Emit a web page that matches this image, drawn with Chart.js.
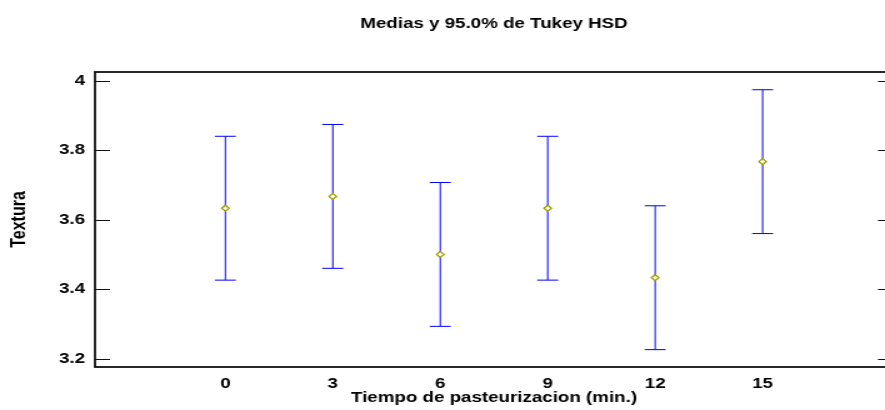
<!DOCTYPE html>
<html>
  <head>
    <meta charset="utf-8">
    <style>
      html, body { margin: 0; padding: 0; overflow: hidden; background: #fff; }
    </style>
  </head>
  <body>
    <!-- drawn narrow and widened with an inline style, like the original export -->
    <canvas id="grafico" width="724" height="410" style="display:block;width:905px;height:410px"></canvas>
  </body>
</html>

<script src="https://cdn.jsdelivr.net/npm/chart.js"></script>
<script>
  // tiempo de pasteurizacion (min.)
  let tiempo = [0, 3, 6, 9, 12, 15];
  // medias de textura y limites del intervalo Tukey HSD 95%
  let medias = [3.633, 3.667, 3.5, 3.633, 3.433, 3.767];
  let limInf = [3.426, 3.460, 3.293, 3.426, 3.226, 3.560];
  let limSup = [3.840, 3.874, 3.707, 3.840, 3.640, 3.974];
  let yTicks = [3.2, 3.4, 3.6, 3.8, 4];

  Chart.defaults.font.family = "'Liberation Sans', Arial, sans-serif";
  Chart.defaults.font.weight = 'bold';
  Chart.defaults.color = '#000';

  // vertical lines: two points per interval and a null to break the line
  let bigotes = [];
  tiempo.forEach(function(t, i){
    bigotes.push({x: t, y: limInf[i]});
    bigotes.push({x: t, y: limSup[i]});
    bigotes.push({x: t, y: null});
  });

  let topes = [];
  tiempo.forEach(function(t, i){
    topes.push({x: t, y: limInf[i]});
    topes.push({x: t, y: limSup[i]});
  });

  let puntosMedia = tiempo.map(function(t, i){ return {x: t, y: medias[i]}; });

  // box around the plot plus inward ticks on both sides
  let marco = {
    id: 'marco',
    beforeDatasetsDraw(chart){
      let ctx = chart.ctx;
      let a = chart.chartArea;
      let y = chart.scales.y;
      ctx.save();
      ctx.strokeStyle = '#111';
      ctx.lineWidth = 1.8;
      ctx.strokeRect(a.left, a.top, a.right - a.left, a.bottom - a.top);
      ctx.lineWidth = 1.2;
      ctx.beginPath();
      yTicks.forEach(function(v){
        let py = Math.round(y.getPixelForValue(v)) + 0.5;
        ctx.moveTo(a.left, py);
        ctx.lineTo(a.left + 12, py);
        ctx.moveTo(a.right - 12, py);
        ctx.lineTo(a.right, py);
      });
      ctx.stroke();
      ctx.restore();
    }
  };

  let config = {
    type: 'scatter',
    data: {
      datasets: [
        {
          label: 'Media',
          data: puntosMedia,
          pointStyle: 'rectRot',
          pointRadius: 3,
          borderWidth: 1.2,
          borderColor: '#999900',
          backgroundColor: '#ffffe0'
        },
        {
          label: 'Topes',
          data: topes,
          pointStyle: 'line',
          pointRadius: 8.4,
          borderWidth: 1,
          borderColor: '#0000ff'
        },
        {
          type: 'line',
          label: 'Intervalo',
          data: bigotes,
          spanGaps: false,
          pointRadius: 0,
          borderWidth: 1,
          borderColor: '#0000ff'
        }
      ]
    },
    options: {
      responsive: false,
      devicePixelRatio: 1,
      animation: false,
      events: [],
      layout: { autoPadding: false, padding: { left: 0, right: 9.6, top: 0, bottom: 0 } },
      plugins: {
        legend: { display: false },
        tooltip: { enabled: false },
        title: {
          display: true,
          fullSize: false,
          text: 'Medias y 95.0% de Tukey HSD',
          font: { size: 15, weight: 'bold' },
          padding: { top: 15, bottom: 39 }
        }
      },
      scales: {
        x: {
          type: 'linear',
          min: -3.64,
          max: 18.64,
          grid: { display: false, drawTicks: false, tickLength: 0 },
          border: { display: false },
          afterBuildTicks: function(s){ s.ticks = tiempo.map(function(v){ return {value: v}; }); },
          afterFit: function(s){ s.height = 43; },
          ticks: {
            padding: 8,
            font: { size: 15, weight: 'bold' },
            callback: function(v){ return String(v); }
          },
          title: {
            display: true,
            text: 'Tiempo de pasteurizacion (min.)',
            font: { size: 15, weight: 'bold' },
            padding: { top: 0, bottom: 3.5 }
          }
        },
        y: {
          min: 3.176,
          max: 4.025,
          grid: { display: false, drawTicks: false, tickLength: 0 },
          border: { display: false },
          afterBuildTicks: function(s){ s.ticks = yTicks.map(function(v){ return {value: v}; }); },
          afterFit: function(s){ s.width = 76; },
          ticks: {
            padding: 8,
            font: { size: 15, weight: 'bold' },
            callback: function(v){ return String(v); }
          },
          title: {
            display: true,
            text: 'Textura',
            font: { size: 16, weight: 'bold' },
            padding: { top: 6, bottom: 0 }
          }
        }
      }
    },
    plugins: [marco]
  };

  let grafico = new Chart(document.getElementById('grafico'), config);
</script>
